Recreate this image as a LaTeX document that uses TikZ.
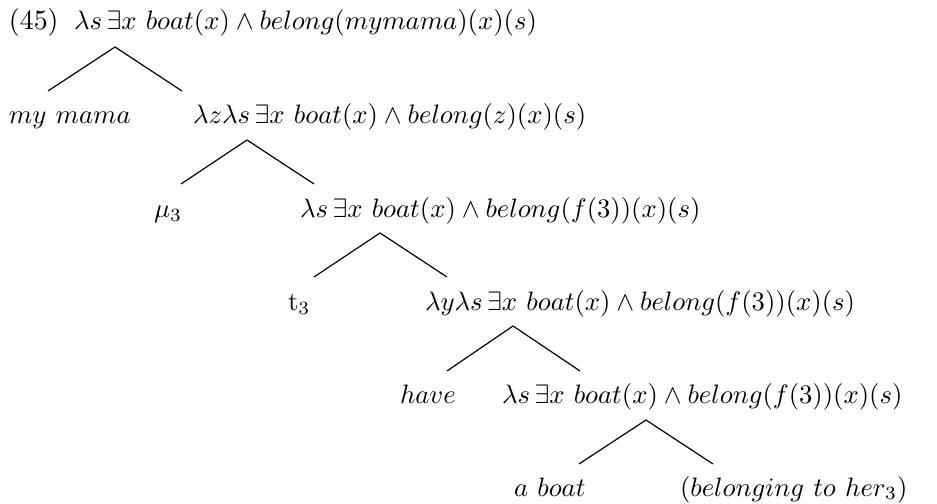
\documentclass[tikz,border=0pt]{standalone}
\begin{document}
\begin{tikzpicture}[x=0.375pt,y=-0.375pt,
  lab/.style={anchor=base west,inner sep=0pt,outer sep=0pt,font=\fontsize{10.45}{13}\selectfont},
  branch/.style={line width=0.45pt}]
\useasboundingbox (0,0) rectangle (937,504);
% row 1
\node[lab] (num) at (9,30) {(45)};
\node[lab] (r1) at (74,30) {$\lambda s\,\exists x\ boat(x)\wedge belong(mymama)(x)(s)$};
% row 2
\node[lab] (mm) at (9,124) {$my\ mama$};
\node[lab] (r2) at (193,124) {$\lambda z\lambda s\,\exists x\ boat(x)\wedge belong(z)(x)(s)$};
% row 3
\node[lab] (mu) at (154,218) {$\mu_3$};
\node[lab] (r3) at (300,218) {$\lambda s\,\exists x\ boat(x)\wedge belong(f(3))(x)(s)$};
% row 4
\node[lab] (t) at (288,311) {$\mathrm{t}_3$};
\node[lab] (r4) at (425,311) {$\lambda y\lambda s\,\exists x\ boat(x)\wedge belong(f(3))(x)(s)$};
% row 5
\node[lab] (hv) at (400,404) {$have$};
\node[lab] (r5) at (502,404) {$\lambda s\,\exists x\ boat(x)\wedge belong(f(3))(x)(s)$};
% row 6
\node[lab] (ab) at (514,496) {$a\ boat$};
\node[lab] (bl) at (680,496) {$(belonging\ to\ her_3)$};
% branch points
\coordinate (a1) at (115,47);  \coordinate (l1) at (48,91);  \coordinate (e1) at (182,91);
\coordinate (a2) at (247,140); \coordinate (l2) at (181,184); \coordinate (e2) at (314,184);
\coordinate (a3) at (380,233); \coordinate (l3) at (314,277); \coordinate (e3) at (447,277);
\coordinate (a4) at (513,326); \coordinate (l4) at (447,371); \coordinate (e4) at (580,371);
\coordinate (a5) at (646,420); \coordinate (l5) at (579,464); \coordinate (e5) at (713,464);
\foreach \i in {1,...,5} {\draw[branch] (l\i) -- (a\i) -- (e\i);}
\end{tikzpicture}
\end{document}
